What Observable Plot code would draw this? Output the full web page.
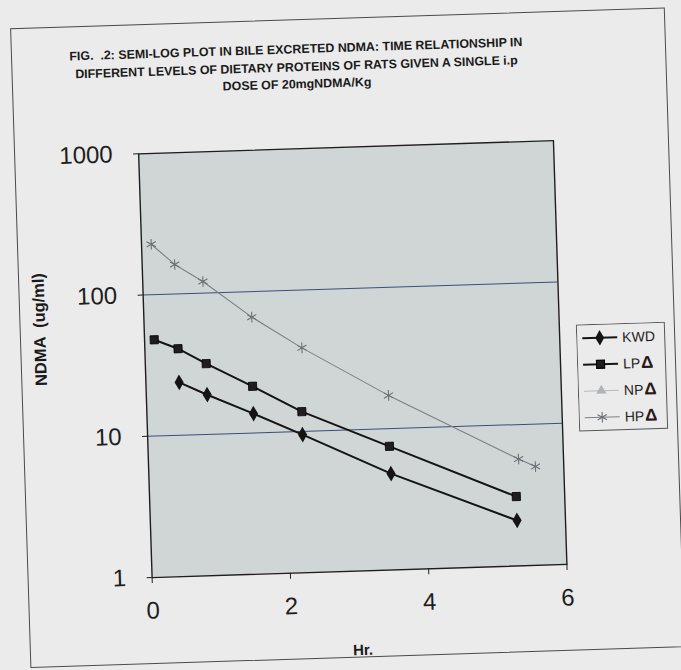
<!DOCTYPE html>
<html><head><meta charset="utf-8">
<script src="https://cdn.jsdelivr.net/npm/d3@7"></script>
<script src="https://cdn.jsdelivr.net/npm/@observablehq/plot@0.6"></script>
<style>
html,body{margin:0;padding:0;background:#ebebeb;}
#page{position:relative;width:681px;height:670px;overflow:hidden;background:#ebebeb;font-family:"Liberation Sans",Arial,sans-serif;}
#fig{position:absolute;left:0;top:0;width:681px;height:670px;transform:rotate(-1.82deg);transform-origin:340.5px 335px;}
#border{position:absolute;left:20px;top:18px;width:655px;height:640px;border:1px solid #4a4a4a;box-sizing:border-box;}
#title{position:absolute;left:0;width:610px;top:40px;text-align:center;font-weight:bold;font-size:12.4px;line-height:17.5px;color:#1a1a1a;white-space:pre;}
#chart{position:absolute;left:0;top:100px;}
#ylabel{position:absolute;left:40px;top:320px;transform:translate(-50%,-50%) rotate(-90deg);font-weight:bold;font-size:16.5px;white-space:pre;color:#1a1a1a;}
#xlabel{position:absolute;left:353px;top:650px;transform:translate(-50%,-50%);font-weight:bold;font-size:15px;color:#1a1a1a;}
#legend{position:absolute;left:576px;top:332px;}
</style></head>
<body>
<div id="page"><div id="fig">
  <div id="border"></div>
  <div id="title"></div>
  <div id="chart"></div>
  <div id="ylabel"></div>
  <div id="xlabel"></div>
  <div id="legend"></div>
</div></div>
<script>
// ---- data ----
const titleLines = [
  "FIG.  .2: SEMI-LOG PLOT IN BILE EXCRETED NDMA: TIME RELATIONSHIP IN",
  "DIFFERENT LEVELS OF DIETARY PROTEINS OF RATS GIVEN A SINGLE i.p",
  "DOSE OF 20mgNDMA/Kg"
];
const yLabel = "NDMA  (ug/ml)";
const xLabel = "Hr.";
const seriesNames = ["KWD", "LP", "NP", "HP"];
const legendMarks = ["", "Δ", "Δ", "Δ"];

const kwdHours = [0.48, 0.88, 1.54, 2.24, 3.50, 5.30];
const kwdNdma  = [23.7, 19.1, 13.7, 9.5, 4.8, 2.1];

const lpHours = [0.14, 0.48, 0.88, 1.54, 2.24, 3.49, 5.30];
const lpNdma  = [48, 41, 31.7, 21.4, 13.8, 7.5, 3.1];

const hpHours = [0.14, 0.47, 0.87, 1.56, 2.27, 3.50, 5.35, 5.59];
const hpNdma  = [228, 162, 121, 66, 39, 17.2, 5.7, 5.0];

const xTicks = [0, 2, 4, 6];
const yTicks = [1, 10, 100, 1000];
const gridValues = [10, 100];

// ---- build ----
const toRows = (name, hs, vs) => hs.map((h, i) => ({series: name, hour: h, ndma: vs[i]}));
const kwd = toRows("KWD", kwdHours, kwdNdma);
const lp = toRows("LP", lpHours, lpNdma);
const hp = toRows("HP", hpHours, hpNdma);

document.getElementById("title").textContent = titleLines.join("\n");
document.getElementById("ylabel").textContent = yLabel;
document.getElementById("xlabel").textContent = xLabel;

const chart = Plot.plot({
  width: 681, height: 531,
  marginLeft: 144, marginRight: 122, marginTop: 47, marginBottom: 60,
  style: {background: "transparent", fontFamily: "'Liberation Sans', Arial, sans-serif", color: "#1e1e1e"},
  x: {domain: [0, 6]},
  y: {type: "log", domain: [1, 1000]},
  marks: [
    Plot.frame({fill: "#d0d5d6", stroke: "none"}),
    Plot.ruleY(gridValues, {stroke: "#3e4c7c", strokeWidth: 1}),
    Plot.frame({stroke: "#1e1e1e", strokeWidth: 1.4}),
    Plot.axisY({ticks: yTicks, tickFormat: d => String(d), fontSize: 24, tickSize: 5, tickPadding: 21, label: null}),
    Plot.axisX({ticks: xTicks, tickFormat: d => String(d), fontSize: 24, tickSize: 6, tickPadding: 18, label: null}),
    Plot.line(hp, {x: "hour", y: "ndma", stroke: "#7b8085", strokeWidth: 1.1}),
    Plot.dot(hp, {x: "hour", y: "ndma", symbol: "asterisk", r: 5, stroke: "#6b7075", strokeWidth: 1.1}),
    Plot.line(lp, {x: "hour", y: "ndma", stroke: "#141414", strokeWidth: 2}),
    Plot.dot(lp, {x: "hour", y: "ndma", symbol: "square", r: 4.6, fill: "#1e1e1e", stroke: "#000", strokeWidth: 0.8}),
    Plot.line(kwd, {x: "hour", y: "ndma", stroke: "#141414", strokeWidth: 2}),
    Plot.dot(kwd, {x: "hour", y: "ndma", symbol: "diamond", r: 4.8, fill: "#141414"})
  ]
});
document.getElementById("chart").appendChild(chart);

// ---- legend ----
const legendStyles = [
  {stroke: "#141414", width: 2, symbol: d3.symbolDiamond, size: 70, fill: "#141414", sstroke: "none"},
  {stroke: "#141414", width: 2, symbol: d3.symbolSquare, size: 64, fill: "#1e1e1e", sstroke: "#000"},
  {stroke: "#b6babd", width: 1, symbol: d3.symbolTriangle, size: 45, fill: "#b0b4b6", sstroke: "none"},
  {stroke: "#7b8085", width: 1, symbol: d3.symbolAsterisk, size: 80, fill: "none", sstroke: "#6b7075"}
];
const lsvg = d3.select("#legend").append("svg").attr("width", 90).attr("height", 108)
  .style("font-family", "'Liberation Sans', Arial, sans-serif");
lsvg.append("rect").attr("x", 0.5).attr("y", 0.5).attr("width", 88).attr("height", 106)
  .attr("fill", "none").attr("stroke", "#555").attr("stroke-width", 1);
seriesNames.forEach((name, i) => {
  const y = 14 + i * 26.5, s = legendStyles[i];
  const g = lsvg.append("g");
  g.append("line").attr("x1", 6).attr("x2", 41).attr("y1", y).attr("y2", y)
    .attr("stroke", s.stroke).attr("stroke-width", s.width);
  g.append("path").attr("d", d3.symbol(s.symbol, s.size)()).attr("transform", `translate(23.5,${y})`)
    .attr("fill", s.fill).attr("stroke", s.sstroke).attr("stroke-width", 1.1);
  const t = g.append("text").attr("x", 46).attr("y", y + 5).attr("font-size", 14).attr("fill", "#1e1e1e").text(name);
  if (legendMarks[i]) t.append("tspan").attr("dx", 1).attr("font-weight", "bold").attr("font-size", 17).attr("fill", "#2a1818").text(legendMarks[i]);
});
</script>
</body></html>
